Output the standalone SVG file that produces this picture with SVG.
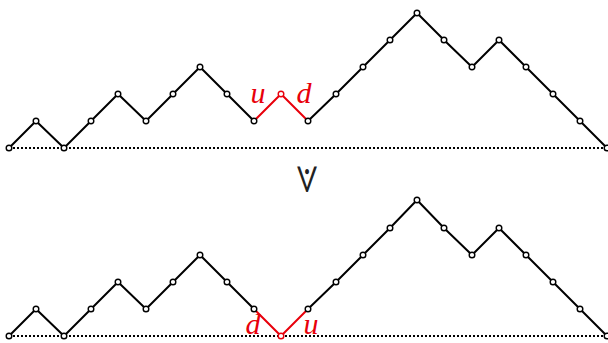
<svg xmlns="http://www.w3.org/2000/svg" width="608" height="343" viewBox="0 0 608 343">
<style>
.path{fill:none;stroke:#000;stroke-width:2;stroke-linejoin:round}
.red{fill:none;stroke:#e8000b;stroke-width:2;stroke-linejoin:round}
.base{stroke:#000;stroke-width:2;stroke-dasharray:2,2}
.pt{fill:#fff;stroke:#000;stroke-width:1.4}
.rpt{fill:#fff;stroke:#e8000b;stroke-width:1.4}
.lbl{font-family:"Liberation Serif",serif;font-style:italic;font-size:30px;fill:#e8000b}
</style>
<g id="connectors">
<line class="base" x1="9" y1="148" x2="607" y2="148"/>
<polyline class="path" points="9,148 36,121 64,148 91,121 118,94 146,121 173,94 200,67 227,94 254,121"/>
<polyline class="path" points="308,121 336,94 363,67 390,40 417,13 444,40 472,67 499,40 526,67 553,94 580,121 607,148"/>
<polyline class="red" points="254,121 281,94 308,121"/>
<line class="base" x1="9" y1="336" x2="607" y2="336"/>
<polyline class="path" points="9,336 36,309 64,336 91,309 118,282 146,309 173,282 200,255 227,282 254,309"/>
<polyline class="path" points="308,309 336,282 363,255 390,228 417,200 444,228 472,255 499,228 526,255 553,282 580,309 607,336"/>
<polyline class="red" points="254,309 281,336 308,309"/>
</g>
<g id="top-path">
<circle class="pt" cx="9" cy="148" r="2.8"/><circle class="pt" cx="36" cy="121" r="2.8"/><circle class="pt" cx="64" cy="148" r="2.8"/><circle class="pt" cx="91" cy="121" r="2.8"/><circle class="pt" cx="118" cy="94" r="2.8"/><circle class="pt" cx="146" cy="121" r="2.8"/><circle class="pt" cx="173" cy="94" r="2.8"/><circle class="pt" cx="200" cy="67" r="2.8"/><circle class="pt" cx="227" cy="94" r="2.8"/><circle class="pt" cx="254" cy="121" r="2.8"/><circle class="rpt" cx="281" cy="94" r="2.8"/><circle class="pt" cx="308" cy="121" r="2.8"/><circle class="pt" cx="336" cy="94" r="2.8"/><circle class="pt" cx="363" cy="67" r="2.8"/><circle class="pt" cx="390" cy="40" r="2.8"/><circle class="pt" cx="417" cy="13" r="2.8"/><circle class="pt" cx="444" cy="40" r="2.8"/><circle class="pt" cx="472" cy="67" r="2.8"/><circle class="pt" cx="499" cy="40" r="2.8"/><circle class="pt" cx="526" cy="67" r="2.8"/><circle class="pt" cx="553" cy="94" r="2.8"/><circle class="pt" cx="580" cy="121" r="2.8"/><circle class="pt" cx="607" cy="148" r="2.8"/>
<text class="lbl" x="258" y="103" text-anchor="middle">u</text>
<text class="lbl" x="304" y="103" text-anchor="middle">d</text>
</g>
<g id="bottom-path">
<circle class="pt" cx="9" cy="336" r="2.8"/><circle class="pt" cx="36" cy="309" r="2.8"/><circle class="pt" cx="64" cy="336" r="2.8"/><circle class="pt" cx="91" cy="309" r="2.8"/><circle class="pt" cx="118" cy="282" r="2.8"/><circle class="pt" cx="146" cy="309" r="2.8"/><circle class="pt" cx="173" cy="282" r="2.8"/><circle class="pt" cx="200" cy="255" r="2.8"/><circle class="pt" cx="227" cy="282" r="2.8"/><circle class="pt" cx="254" cy="309" r="2.8"/><circle class="rpt" cx="281" cy="336" r="2.8"/><circle class="pt" cx="308" cy="309" r="2.8"/><circle class="pt" cx="336" cy="282" r="2.8"/><circle class="pt" cx="363" cy="255" r="2.8"/><circle class="pt" cx="390" cy="228" r="2.8"/><circle class="pt" cx="417" cy="200" r="2.8"/><circle class="pt" cx="444" cy="228" r="2.8"/><circle class="pt" cx="472" cy="255" r="2.8"/><circle class="pt" cx="499" cy="228" r="2.8"/><circle class="pt" cx="526" cy="255" r="2.8"/><circle class="pt" cx="553" cy="282" r="2.8"/><circle class="pt" cx="580" cy="309" r="2.8"/><circle class="pt" cx="607" cy="336" r="2.8"/>
<text class="lbl" x="253" y="334" text-anchor="middle">d</text>
<text class="lbl" x="311" y="334" text-anchor="middle">u</text>
</g>
<g id="relation">
<text transform="translate(307,192) scale(0.95,1.3)" x="0" y="0" text-anchor="middle" font-family="'Noto Sans Math','Noto Sans',sans-serif" font-size="34" fill="#222">⟇</text>
</g>
</svg>
